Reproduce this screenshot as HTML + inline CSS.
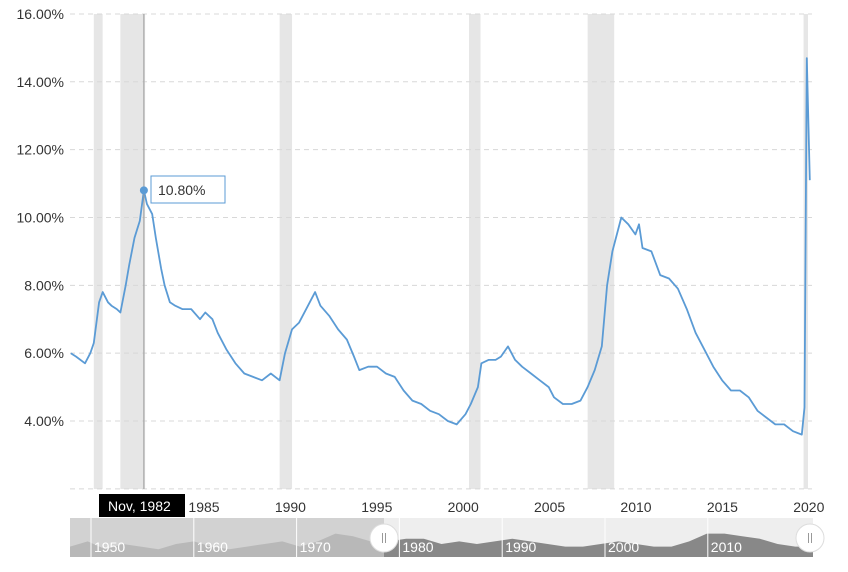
<!DOCTYPE html>
<html><head><meta charset="utf-8">
<style>
body{margin:0;background:#fff;font-family:"Liberation Sans",sans-serif;}
svg text{font-family:"Liberation Sans",sans-serif;}
</style></head>
<body>
<svg id="chart" width="848" height="567" viewBox="0 0 848 567" xmlns="http://www.w3.org/2000/svg">
<rect width="848" height="567" fill="#fff"/>
<g id="recessions"></g>
<g id="grid"></g>
<g id="yaxis"></g>
<g id="xaxis"></g>
<path id="line" fill="none" stroke="#5b9bd5" stroke-width="1.8" stroke-linejoin="round"/>
<g id="tip"></g>
<g id="nav"></g>
</svg>
<script>
const years=[1978.7,1979.0,1979.5,1979.8,1980.0,1980.3,1980.5,1980.8,1981.0,1981.3,1981.5,1981.8,1982.0,1982.3,1982.6,1982.83,1983.0,1983.3,1983.5,1983.8,1984.0,1984.3,1984.6,1985,1985.5,1986,1986.3,1986.7,1987,1987.5,1988,1988.5,1989,1989.5,1990,1990.5,1990.8,1991.2,1991.6,1992,1992.5,1992.8,1993.3,1993.8,1994.3,1994.7,1995,1995.5,1996,1996.5,1997,1997.5,1998,1998.5,1999,1999.5,2000,2000.5,2001,2001.3,2001.7,2001.9,2002.3,2002.7,2003,2003.4,2003.8,2004.2,2004.7,2005.2,2005.7,2006,2006.5,2007,2007.5,2007.9,2008.3,2008.7,2009,2009.3,2009.8,2010.2,2010.6,2010.8,2011,2011.5,2012,2012.5,2013,2013.5,2014,2014.5,2015,2015.5,2016,2016.5,2017,2017.5,2018,2018.5,2019,2019.5,2020.0,2020.15,2020.28,2020.45];
const rates=[6.0,5.9,5.7,6.0,6.3,7.5,7.8,7.5,7.4,7.3,7.2,8.0,8.6,9.4,9.9,10.8,10.4,10.1,9.4,8.5,8.0,7.5,7.4,7.3,7.3,7.0,7.2,7.0,6.6,6.1,5.7,5.4,5.3,5.2,5.4,5.2,6.0,6.7,6.9,7.3,7.8,7.4,7.1,6.7,6.4,5.9,5.5,5.6,5.6,5.4,5.3,4.9,4.6,4.5,4.3,4.2,4.0,3.9,4.2,4.5,5.0,5.7,5.8,5.8,5.9,6.2,5.8,5.6,5.4,5.2,5.0,4.7,4.5,4.5,4.6,5.0,5.5,6.2,8.0,9.0,10.0,9.8,9.5,9.8,9.1,9.0,8.3,8.2,7.9,7.3,6.6,6.1,5.6,5.2,4.9,4.9,4.7,4.3,4.1,3.9,3.9,3.7,3.6,4.4,14.7,11.1];
const yTicks=[4,6,8,10,12,14,16];
const xTickLabels=["1985","1990","1995","2000","2005","2010","2015","2020"];
const recStart=[1980.0,1981.5,1990.5,2001.2,2007.9,2020.1];
const recEnd=[1980.5,1982.9,1991.2,2001.85,2009.4,2020.35];
const navLabels=["1950","1960","1970","1980","1990","2000","2010"];
const navVals=[4,6,3,5,4,3,5,6,4,3,4,5,6,4,6,9,8,6,6,7,7,5,6,5,6,7,6,5,4,4,5,6,5,4,4,6,9,9,8,7,5,4,4];
const NS='http://www.w3.org/2000/svg';
function X(y){return 447.8+(y-2000)*17.7;}
function Y(v){return 421-(v-4)*33.92;}
function mk(t,a,p){const e=document.createElementNS(NS,t);for(const k in a)e.setAttribute(k,a[k]);p.appendChild(e);return e;}
const rec=document.getElementById('recessions');
recStart.forEach((s,i)=>{const r=mk('rect',{x:X(s),y:14,width:X(recEnd[i])-X(s),height:475,fill:'#e6e6e6'},rec);

});
const grid=document.getElementById('grid'),ya=document.getElementById('yaxis');
[2].concat(yTicks).forEach(v=>{const l=mk('line',{x1:70,x2:812,y1:Y(v),y2:Y(v),stroke:'#d8d8d8','stroke-dasharray':'5,4'},grid);

});
yTicks.forEach(v=>{const t=mk('text',{x:64,y:Y(v)+5,'text-anchor':'end','font-size':14,fill:'#333'},ya);t.textContent=v.toFixed(2)+'%';

});
const xa=document.getElementById('xaxis');
xTickLabels.forEach((l,i)=>{const t=mk('text',{x:204+i*86.4,y:512,'text-anchor':'middle','font-size':14,fill:'#333'},xa);t.textContent=l;

});
document.getElementById('line').setAttribute('d',years.map((y,i)=>(i?'L':'M')+X(y).toFixed(1)+','+Y(rates[i]).toFixed(1)).join(''));
const tip=document.getElementById('tip');
const hx=X(1982.83),hy=Y(10.8);
mk('line',{x1:hx,x2:hx,y1:14,y2:489,stroke:'#999','stroke-width':1},tip);
mk('circle',{cx:hx,cy:hy,r:4,fill:'#5b9bd5'},tip);
mk('rect',{x:151,y:176,width:74,height:27,fill:'#fff',stroke:'#5b9bd5'},tip);
const tt=mk('text',{x:158,y:195,'font-size':14,fill:'#333'},tip);tt.textContent='10.80%';


mk('rect',{x:99,y:494,width:86,height:23,fill:'#000'},tip);
const td=mk('text',{x:108,y:511,'font-size':14,fill:'#fff'},tip);td.textContent='Nov, 1982';


const nav=document.getElementById('nav');
mk('rect',{x:70,y:518,width:743,height:39,fill:'#eeeeee'},nav);
mk('rect',{x:70,y:518,width:314,height:39,fill:'#d2d2d2'},nav);
mk('clipPath',{id:'cl'},nav);mk('rect',{x:70,y:518,width:314,height:39},document.getElementById('cl'));
mk('clipPath',{id:'cr'},nav);mk('rect',{x:384,y:518,width:429,height:39},document.getElementById('cr'));
let d='M70,557';navVals.forEach((v,i)=>{d+='L'+(70+i*743/(navVals.length-1)).toFixed(1)+','+(557-v*2.6).toFixed(1);});d+='L813,557Z';
mk('path',{d:d,fill:'#b8b8b8','clip-path':'url(#cl)'},nav);
mk('path',{d:d,fill:'#888888','clip-path':'url(#cr)'},nav);
navLabels.forEach((l,i)=>{const x=91+i*102.8;mk('line',{x1:x,x2:x,y1:518,y2:557,stroke:'#fff'},nav);
const t=mk('text',{x:x+3,y:552,'font-size':14,fill:'#fff'},nav);t.textContent=l;

});
[384,810].forEach(x=>{const c=mk('circle',{cx:x,cy:538,r:14,fill:'#fff',stroke:'#ddd'},nav);


mk('line',{x1:x-1.5,x2:x-1.5,y1:533,y2:543,stroke:'#999'},nav);mk('line',{x1:x+1.5,x2:x+1.5,y1:533,y2:543,stroke:'#999'},nav);});
</script>
</body></html>
